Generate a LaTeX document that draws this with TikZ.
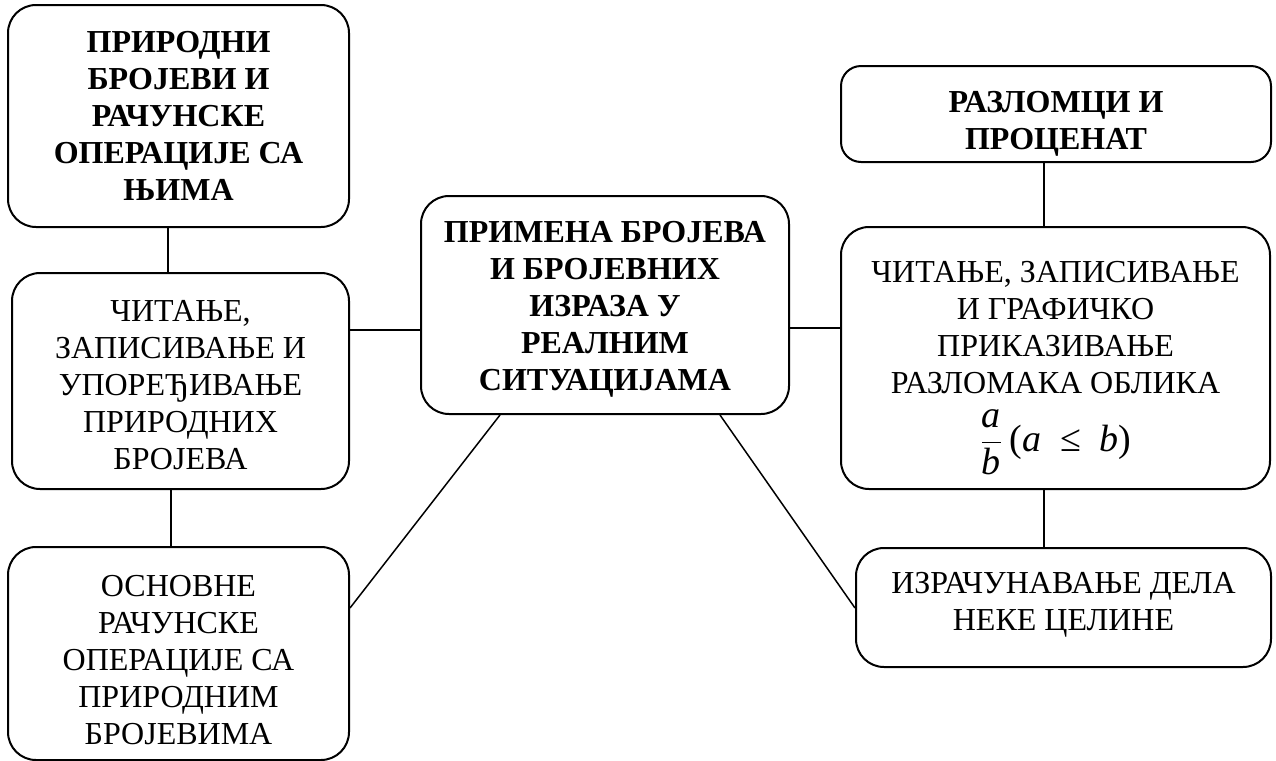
\documentclass[tikz,border=0pt]{standalone}
\usepackage{amsmath}
\usepackage{fontspec}
\setmainfont{Liberation Serif}
\begin{document}
\begin{tikzpicture}[x=0.5pt,y=-0.5pt,
  txt/.style={align=center, inner sep=0pt, font=\fontsize{16}{18.5}\selectfont},
  boldtxt/.style={txt, font=\fontsize{16}{18.5}\selectfont\bfseries},
  box/.style={txt, draw, line width=1pt, rounded corners=14pt},
  boldbox/.style={box, font=\fontsize{16}{18.5}\selectfont\bfseries},
  link/.style={line width=0.75pt}]
\useasboundingbox (0,0) rectangle (1276,761);
\node[boldbox, minimum width=170.5pt, minimum height=111pt] (b1) at (178.5,116)
  {ПРИРОДНИ\\БРОЈЕВИ И\\РАЧУНСКЕ\\ОПЕРАЦИЈЕ СА\\ЊИМА};
\node[box, minimum width=168.5pt, minimum height=108pt] (b2) at (180.5,381)
  {\rule{0pt}{15pt}ЧИТАЊЕ,\\ЗАПИСИВАЊЕ И\\УПОРЕЂИВАЊЕ\\ПРИРОДНИХ\\БРОЈЕВА};
\node[box, minimum width=170.5pt, minimum height=106.5pt] (b3) at (178.5,653.5)
  {\rule{0pt}{17pt}ОСНОВНЕ\\РАЧУНСКЕ\\ОПЕРАЦИЈЕ СА\\ПРИРОДНИМ\\БРОЈЕВИМА};
\node[boldbox, minimum width=184pt, minimum height=109pt] (c) at (605,305)
  {\rule{0pt}{15pt}ПРИМЕНА БРОЈЕВА\\И БРОЈЕВНИХ\\ИЗРАЗА У\\РЕАЛНИМ\\СИТУАЦИЈАМА};
\node[box, rounded corners=10pt, minimum width=215pt, minimum height=48pt] (rt) at (1056,114) {};
\node[boldtxt, anchor=north] (rtt) at (1056,91) {РАЗЛОМЦИ И\\ПРОЦЕНАТ};
\node[box, minimum width=214.5pt, minimum height=131pt] (rm) at (1055.5,358) {};
\node[txt, anchor=north] (rmt) at (1055.5,261)
  {ЧИТАЊЕ, ЗАПИСИВАЊЕ\\И ГРАФИЧКО\\ПРИКАЗИВАЊЕ\\РАЗЛОМАКА ОБЛИКА\\[7pt]
   {\fontsize{19}{21}\selectfont$\dfrac{\textit{a}}{\textit{b}}$\,(\textit{a}\enspace≤\enspace\textit{b})}};
\node[box, minimum width=207.5pt, minimum height=59.5pt] (rb) at (1063.5,607.5)
  {ИЗРАЧУНАВАЊЕ ДЕЛА\\НЕКЕ ЦЕЛИНЕ\rule[-6pt]{0pt}{6pt}};
\draw[link] (168,0 |- b1.south) -- (168,0 |- b2.north);
\draw[link] (171,0 |- b2.south) -- (171,0 |- b3.north);
\draw[link] (b2.east |- 0,330) -- (c.west |- 0,330);
\draw[link] (c.east |- 0,328) -- (rm.west |- 0,328);
\draw[link] (1044,0 |- rt.south) -- (1044,0 |- rm.north);
\draw[link] (1044,0 |- rm.south) -- (1044,0 |- rb.north);
\draw[link] (500,0 |- c.south) -- (b3.east |- 0,608);
\draw[link] (720,0 |- c.south) -- (rb.west |- 0,608);
\end{tikzpicture}
\end{document}
